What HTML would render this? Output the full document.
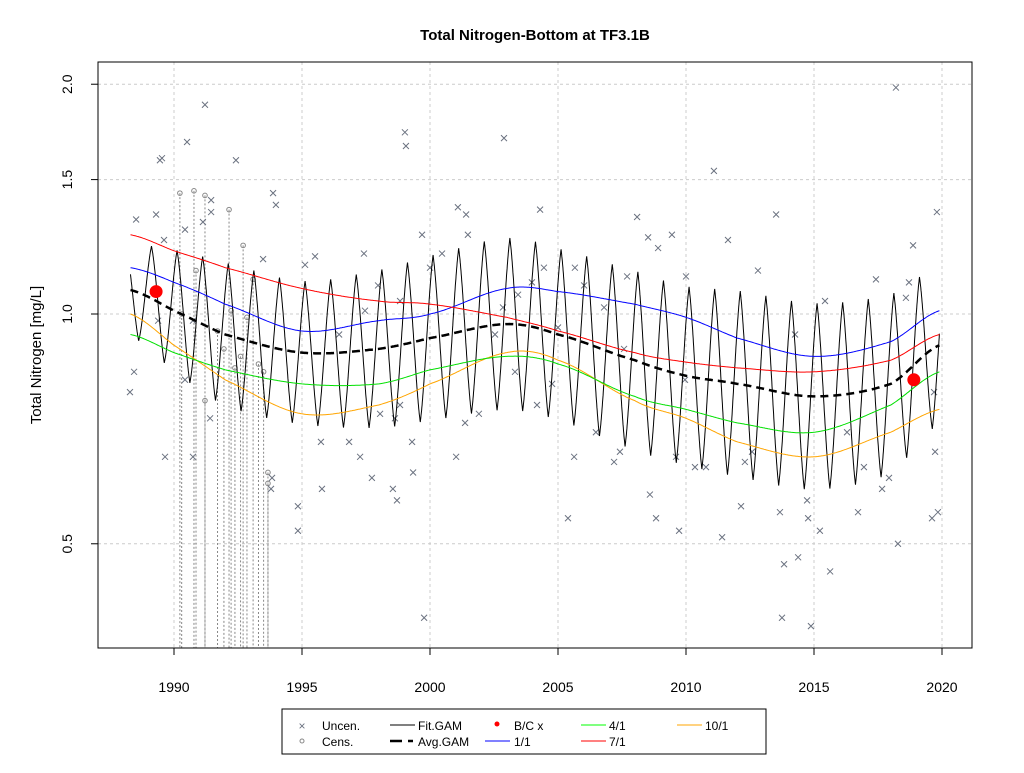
<!DOCTYPE html>
<html><head><meta charset="utf-8"><style>
body{margin:0;background:#fff;font-family:"Liberation Sans",Arial,sans-serif}
svg text{font-family:"Liberation Sans",Arial,sans-serif}
</style></head><body>
<svg id="chart" width="1024" height="768" viewBox="0 0 1024 768" xmlns="http://www.w3.org/2000/svg">
<rect width="1024" height="768" fill="#fff"/>
<text x="535" y="40" text-anchor="middle" font-size="15" font-weight="bold">Total Nitrogen-Bottom at TF3.1B</text>
<g id="grid"></g>
<g id="cens"></g>
<g id="pts"></g>
<g id="lines"></g>
<rect x="98" y="62" width="874" height="586" fill="none" stroke="#000"/>
<g id="axes"></g>
<text transform="translate(41,355) rotate(-90)" text-anchor="middle" font-size="15">Total Nitrogen [mg/L]</text>
<g>
<rect x="282" y="709" width="484" height="45" fill="#fff" stroke="#000"/>
<text x="302" y="730" font-size="12" fill="#6b7280" text-anchor="middle">×</text>
<text x="322" y="730" font-size="12">Uncen.</text>
<circle cx="302" cy="741" r="2" fill="none" stroke="#888"/>
<text x="322" y="746" font-size="12">Cens.</text>
<line x1="390" y1="725" x2="415" y2="725" stroke="#000"/>
<text x="418" y="730" font-size="12">Fit.GAM</text>
<line x1="390" y1="741" x2="402" y2="741" stroke="#000" stroke-width="2.5"/><line x1="408" y1="741" x2="413" y2="741" stroke="#000" stroke-width="2.5"/>
<text x="418" y="746" font-size="12">Avg.GAM</text>
<circle cx="497" cy="724" r="2.5" fill="#f00"/>
<text x="514" y="730" font-size="12">B/C x</text>
<line x1="485" y1="741" x2="510" y2="741" stroke="#00f"/>
<text x="514" y="746" font-size="12">1/1</text>
<line x1="581" y1="725" x2="606" y2="725" stroke="#0f0"/>
<text x="609" y="730" font-size="12">4/1</text>
<line x1="581" y1="741" x2="606" y2="741" stroke="#f00"/>
<text x="609" y="746" font-size="12">7/1</text>
<line x1="677" y1="725" x2="702" y2="725" stroke="#ffa500"/>
<text x="705" y="730" font-size="12">10/1</text>
</g>
</svg>
<script>
const ptYears=[1988.28,1988.44,1988.52,1989.30,1989.45,1989.53,1989.61,1989.65,1989.38,1991.21,1990.51,1992.42,1993.87,1993.98,1993.48,1991.45,1991.45,1990.43,1991.13,1990.74,1990.43,1990.74,1991.41,1993.79,1993.83,1994.84,1994.84,1995.12,1995.51,1995.74,1995.78,1996.45,1996.84,1997.46,1997.42,1997.97,1997.27,1997.73,1998.05,1998.63,1998.55,1998.71,1998.83,1998.83,1999.02,1999.06,1999.30,1999.34,1999.69,1999.77,2000.00,2000.47,2001.02,2001.09,2001.41,2001.48,2001.37,2001.91,2002.54,2002.89,2002.85,2003.32,2003.44,2003.98,2004.30,2004.18,2004.45,2004.77,2005.00,2005.39,2005.63,2005.66,2006.02,2006.48,2006.80,2007.19,2007.42,2007.58,2007.70,2008.09,2008.52,2008.59,2008.83,2008.91,2009.45,2009.61,2009.73,2009.96,2010.00,2010.35,2010.78,2011.09,2011.41,2011.64,2012.15,2012.30,2012.58,2012.81,2013.52,2013.67,2013.83,2013.75,2014.26,2014.38,2014.73,2014.77,2014.88,2015.23,2015.63,2015.43,2016.29,2016.72,2016.95,2017.42,2017.66,2017.93,2018.20,2018.28,2018.71,2018.87,2019.80,2019.61,2019.84,2019.69,2019.73,2018.59];
const ptValues=[0.79,0.84,1.33,1.35,1.59,1.60,1.25,0.65,0.98,1.88,1.68,1.59,1.44,1.39,1.18,1.41,1.36,1.29,1.32,0.98,0.82,0.65,0.73,0.59,0.61,0.56,0.52,1.16,1.19,0.68,0.59,0.94,0.68,1.01,1.20,1.09,0.65,0.61,0.74,0.73,0.59,0.57,0.76,1.04,1.73,1.66,0.68,0.62,1.27,0.40,1.15,1.20,0.65,1.38,1.35,1.27,0.72,0.74,0.94,1.70,1.02,0.84,1.06,1.10,1.37,0.76,1.15,0.81,0.96,0.54,0.65,1.15,1.09,0.70,1.02,0.64,0.66,0.90,1.12,1.34,1.26,0.58,0.54,1.22,1.27,0.65,0.52,0.82,1.12,0.63,0.63,1.54,0.51,1.25,0.56,0.64,0.66,1.14,1.35,0.55,0.47,0.40,0.94,0.48,0.57,0.54,0.39,0.52,0.46,1.04,0.70,0.55,0.63,1.11,0.59,0.61,1.98,0.50,1.10,1.23,1.36,0.54,0.55,0.79,0.66,1.05];
const censYears=[1990.23,1990.78,1991.21,1992.15,1992.70,1990.86,1993.09,1992.23,1992.85,1992.38,1991.21,1993.67,1993.67,1990.30,1991.70,1991.95,1992.60,1993.30,1993.50];
const censValues=[1.44,1.45,1.43,1.37,1.23,1.14,1.11,1.01,0.99,0.85,0.77,0.62,0.60,1.00,0.95,0.90,0.88,0.86,0.84];
const knotYears=[1988.3,1990,1992,1995,1998,2000,2003,2005,2008,2010,2012,2015,2018,2019.9];
const blueVals=[1.15,1.10,1.03,0.95,0.98,1.00,1.08,1.07,1.03,0.99,0.93,0.88,0.92,1.01];
const redVals=[1.27,1.21,1.15,1.08,1.04,1.03,0.99,0.95,0.89,0.865,0.85,0.84,0.87,0.94];
const greenVals=[0.94,0.89,0.845,0.81,0.81,0.845,0.88,0.86,0.78,0.75,0.72,0.70,0.76,0.84];
const orangeVals=[1.00,0.91,0.82,0.74,0.76,0.81,0.89,0.87,0.77,0.73,0.68,0.65,0.70,0.75];
const avgVals=[1.075,1.01,0.94,0.89,0.90,0.93,0.97,0.94,0.87,0.83,0.81,0.78,0.81,0.91];
const ampVals=[0.13,0.17,0.20,0.20,0.22,0.23,0.24,0.24,0.25,0.25,0.26,0.26,0.25,0.22];
const bcYears=[1989.3,2018.9];
const bcValues=[1.07,0.82];
const xTicks=[1990,1995,2000,2005,2010,2015,2020];
const yTicks=[0.5,1.0,1.5,2.0];
const yTickLabels=["0.5","1.0","1.5","2.0"];

const NS="http://www.w3.org/2000/svg";
const X=t=>174+(t-1990)*25.6;
const Y=v=>314-331.5*Math.log(v);
function mk(tag,attrs,parent){const e=document.createElementNS(NS,tag);for(const k in attrs)e.setAttribute(k,attrs[k]);parent.appendChild(e);return e;}
function interp(arr,t){
  const k=knotYears;let i=0;while(i<k.length-2&&t>k[i+1])i++;
  const p0=arr[Math.max(i-1,0)],p1=arr[i],p2=arr[i+1],p3=arr[Math.min(i+2,k.length-1)];
  const s=Math.min(Math.max((t-k[i])/(k[i+1]-k[i]),0),1);
  const l=v=>Math.log(v);
  const a=l(p0),b=l(p1),c=l(p2),d=l(p3);
  return Math.exp(0.5*((2*b)+(-a+c)*s+(2*a-5*b+4*c-d)*s*s+(-a+3*b-3*c+d)*s*s*s));
}
const grid=document.getElementById('grid'),axes=document.getElementById('axes');
xTicks.forEach(t=>{
  const g=mk('line',{x1:X(t),x2:X(t),y1:62,y2:648,stroke:'#ccc','stroke-dasharray':'3,3'},grid);
  
  
  const tk=mk('line',{x1:X(t),x2:X(t),y1:648,y2:655,stroke:'#000'},axes);
  
  
  const tx=mk('text',{x:X(t),y:692,'text-anchor':'middle','font-size':'14'},axes);tx.textContent=t;
  
  
});
yTicks.forEach((v,i)=>{
  const g=mk('line',{x1:98,x2:972,y1:Y(v),y2:Y(v),stroke:'#ccc','stroke-dasharray':'3,3'},grid);
  
  
  const tk=mk('line',{x1:91,x2:98,y1:Y(v),y2:Y(v),stroke:'#000'},axes);
  
  
  const tx=mk('text',{transform:`translate(72,${Y(v)}) rotate(-90)`,'text-anchor':'middle','font-size':'14'},axes);tx.textContent=yTickLabels[i];
  
  
});
mk('line',{x1:X(1990),x2:X(2020),y1:648,y2:648,stroke:'#000'},axes);
const cens=document.getElementById('cens');
censYears.forEach((t,i)=>{
  const l=mk('line',{x1:X(t),x2:X(t),y1:Y(censValues[i]),y2:648,stroke:'#888','stroke-dasharray':'2,2'},cens);
  
  
  const c=mk('circle',{cx:X(t),cy:Y(censValues[i]),r:2.3,fill:'none',stroke:'#888'},cens);
  
  
});
const pts=document.getElementById('pts');
ptYears.forEach((t,i)=>{
  const x=X(t),y=Y(ptValues[i]);
  const p=mk('path',{d:`M${x-3},${y-3}L${x+3},${y+3}M${x-3},${y+3}L${x+3},${y-3}`,stroke:'#6b7280','stroke-width':1},pts);
  
  
});
const lines=document.getElementById('lines');
function curve(arr,color,name,w){
  let d='';for(let t=knotYears[0];t<=knotYears[knotYears.length-1]+1e-6;t+=0.05){d+=(d?'L':'M')+X(t).toFixed(1)+','+Y(interp(arr,t)).toFixed(1);}
  const p=mk('path',{d,fill:'none',stroke:color,'stroke-width':w||1},lines);
  
  
}
// fit gam (seasonal shape, sharpened)
let d='';for(let t=knotYears[0];t<=knotYears[knotYears.length-1];t+=0.01){
  const a=interp(ampVals,t),m=interp(avgVals,t);
  const c=Math.cos(2*Math.PI*(t-0.12));
  const shape=(2/Math.PI)*Math.asin(c)*0.6+c*0.4;
  const v=m*Math.exp(a*1.08*shape);
  d+=(d?'L':'M')+X(t).toFixed(1)+','+Y(v).toFixed(1);}
const fit=mk('path',{d,fill:'none',stroke:'#000','stroke-width':1},lines);


curve(orangeVals,'#ffa500','pct-10-1-line');
curve(greenVals,'#00e000','pct-4-1-line');
curve(blueVals,'#0000ff','pct-1-1-line');
curve(redVals,'#ff0000','pct-7-1-line');
let da='';for(let t=knotYears[0];t<=knotYears[knotYears.length-1];t+=0.05){da+=(da?'L':'M')+X(t).toFixed(1)+','+Y(interp(avgVals,t)).toFixed(1);}
const avg=mk('path',{d:da,fill:'none',stroke:'#000','stroke-width':2.5,'stroke-dasharray':'8,5'},lines);


bcYears.forEach((t,i)=>{
  const c=mk('circle',{cx:X(t),cy:Y(bcValues[i]),r:6.5,fill:'#f00'},lines);
  
  
});
</script>
</body></html>
